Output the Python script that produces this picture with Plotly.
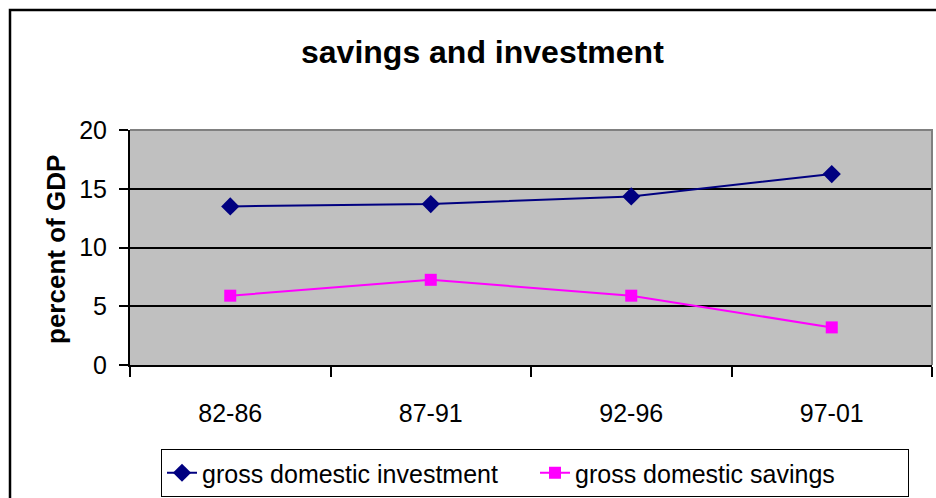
import plotly.graph_objects as go

# Data
periods = ["82-86", "87-91", "92-96", "97-01"]
investment = [13.5, 13.7, 14.35, 16.25]
savings = [5.9, 7.25, 5.9, 3.2]
y_ticks = [0, 5, 10, 15, 20]

FONT = "Arial, Liberation Sans, sans-serif"

# Pixel geometry of the plot area inside the 936x498 canvas
W, H = 936, 498
PL, PR, PT, PB = 130, 932, 130, 365


def px_x(px):
    return (px - PL) / (PR - PL)


def px_y(py):
    return (PB - py) / (PB - PT)


fig = go.Figure()
fig.add_trace(go.Scatter(
    x=periods, y=investment, name="gross domestic investment",
    mode="lines+markers",
    line=dict(color="#000080", width=2),
    marker=dict(symbol="diamond", size=14, color="#000080"),
))
fig.add_trace(go.Scatter(
    x=periods, y=savings, name="gross domestic savings",
    mode="lines+markers",
    line=dict(color="#FF00FF", width=2),
    marker=dict(symbol="square", size=12, color="#FF00FF"),
))

fig.update_layout(
    width=W, height=H,
    margin=dict(l=PL, r=W - PR, t=PT, b=H - PB, pad=0, autoexpand=False),
    paper_bgcolor="white",
    plot_bgcolor="#C0C0C0",
    font=dict(family=FONT, size=25, color="black"),
    showlegend=True,
    legend=dict(
        orientation="h",
        x=px_x(535), xanchor="center",
        y=px_y(473), yanchor="middle",
        bgcolor="white", bordercolor="black", borderwidth=1,
        font=dict(family=FONT, size=25, color="black"),
        itemwidth=30,
        entrywidthmode="pixels", entrywidth=328,
    ),
    xaxis=dict(
        type="category",
        range=[-0.5, 3.5],
        showgrid=False,
        showline=True, linecolor="black", linewidth=2,
        ticks="outside", tickson="boundaries", ticklen=10,
        tickcolor="black", tickwidth=2,
        ticklabelstandoff=25,
        tickfont=dict(family=FONT, size=25),
        zeroline=False,
    ),
    yaxis=dict(
        range=[0, 20],
        tickvals=y_ticks,
        showgrid=True, gridcolor="black", gridwidth=1.5,
        showline=True, linecolor="black", linewidth=2,
        ticks="outside", ticklen=9, tickcolor="black", tickwidth=2,
        ticklabelstandoff=7,
        tickfont=dict(family=FONT, size=25),
        zeroline=False,
    ),
    annotations=[
        dict(
            text="<b>savings and investment</b>",
            xref="paper", yref="paper",
            x=px_x(482), y=px_y(52),
            xanchor="center", yanchor="middle",
            showarrow=False,
            font=dict(family=FONT, size=32, color="black"),
        ),
        dict(
            text="<b>percent of GDP</b>",
            xref="paper", yref="paper",
            x=px_x(56), y=px_y(250),
            xanchor="center", yanchor="middle",
            textangle=-90,
            showarrow=False,
            font=dict(family=FONT, size=26, color="black"),
        ),
    ],
    shapes=[
        # gray top and right edges of the plot area
        dict(type="path", xref="paper", yref="paper",
             path="M 0,1 L 1,1 L 1,0",
             line=dict(color="#808080", width=2)),
        # chart-area border, running off the right and bottom edges
        dict(type="path", xref="paper", yref="paper",
             path=(f"M {px_x(936)},{px_y(10)} L {px_x(10)},{px_y(10)} "
                   f"L {px_x(10)},{px_y(498)}"),
             line=dict(color="black", width=2.5)),
    ],
)

fig.write_html("out.html")
